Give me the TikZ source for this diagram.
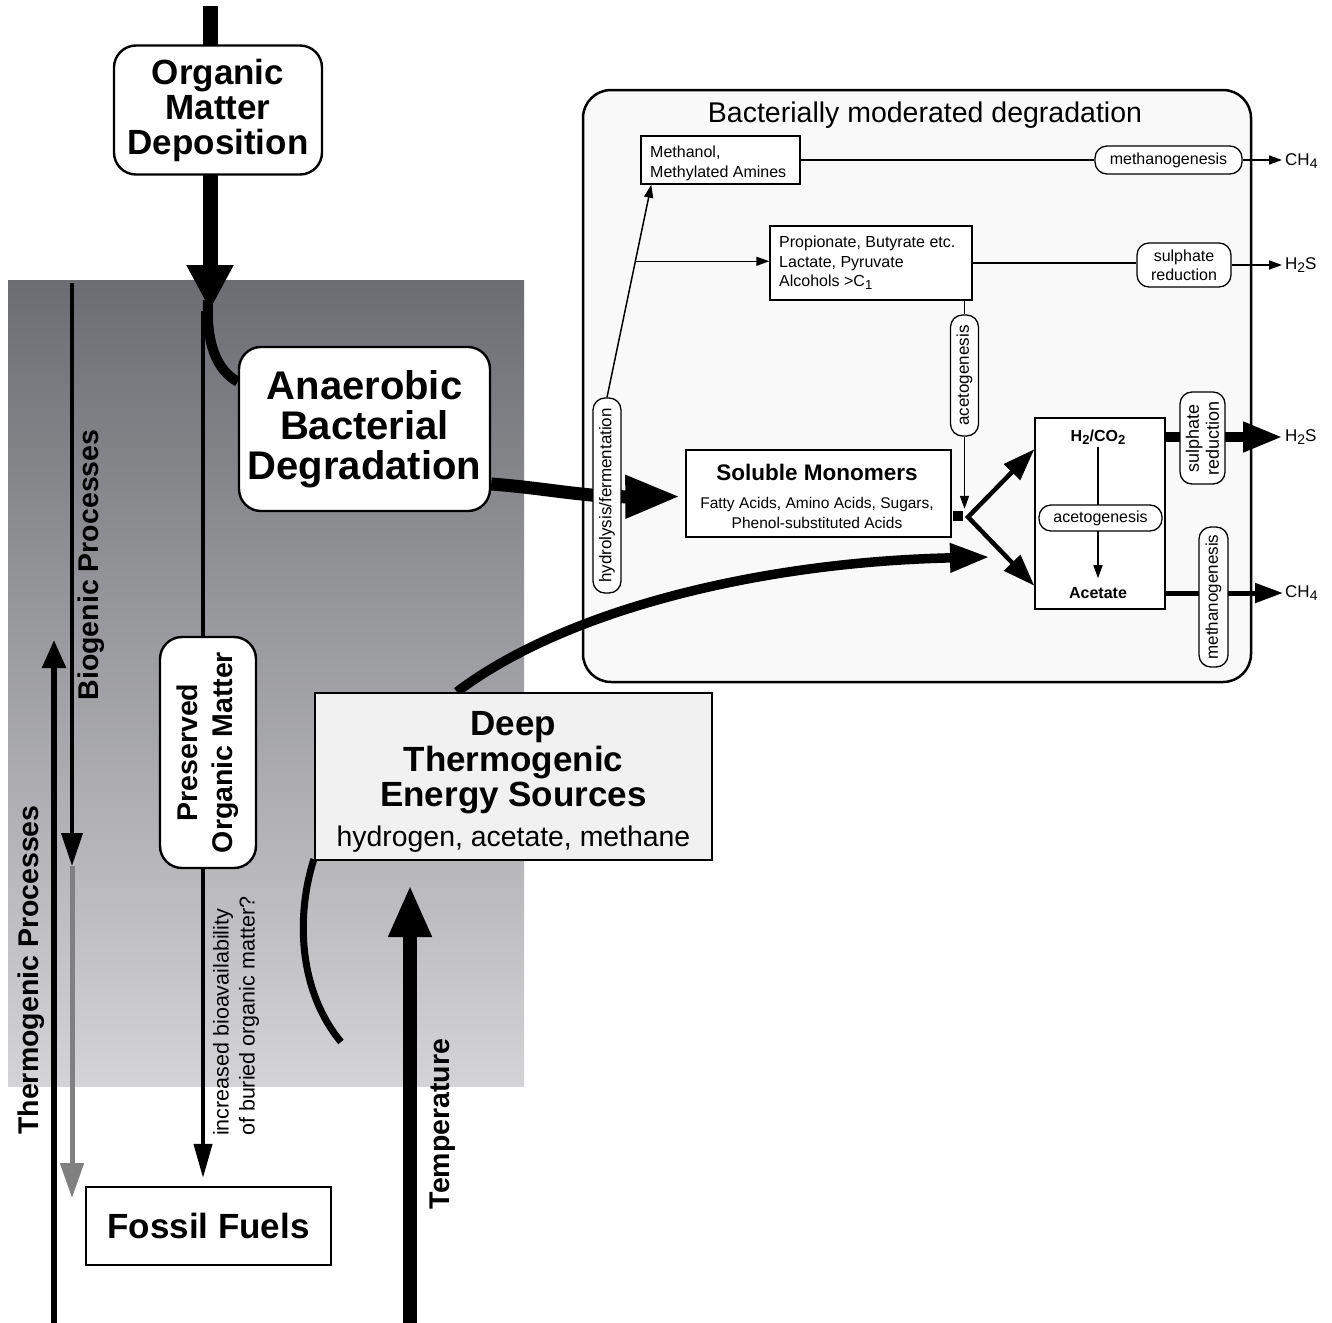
\documentclass[tikz,border=0pt]{standalone}
\usepackage{fontspec}
\setmainfont{Liberation Sans}
\usetikzlibrary{arrows.meta,calc}
\pgfdeclarelayer{bg}
\pgfdeclarelayer{conn}
\pgfsetlayers{bg,conn,main}
\definecolor{shadetop}{RGB}{108,109,114}
\definecolor{shadebot}{RGB}{212,212,214}
\definecolor{mainfill}{RGB}{249,249,249}
\definecolor{deepfill}{RGB}{241,241,241}
\definecolor{graylink}{RGB}{128,128,128}
\newcommand\subs[1]{\raisebox{-0.4ex}{\scalebox{0.82}{#1}}}
\newcommand\fsz[2]{\fontsize{#1}{#2}\selectfont}
\begin{document}
\begin{tikzpicture}[x=1pt,y=-1pt,
  roundbox/.style={draw, line width=2.4pt, fill=white, rounded corners=22pt, align=center, inner sep=0pt},
  sqbox/.style={draw, line width=2.2pt, inner sep=0pt, align=center},
  thinbox/.style={draw, line width=1.4pt, fill=white, inner sep=0pt},
  pill/.style={draw, line width=1.3pt, fill=white, rounded corners=12pt, inner sep=0pt, align=center, font=\fsz{16}{19}},
  fineline/.style={line width=1.5pt},
  smallhead/.style={-{Triangle[length=13pt,width=9pt]}},
  sidelab/.style={rotate=90, font=\bfseries\fsz{28.5}{30}, inner sep=0pt},
  outlab/.style={anchor=west, font=\fsz{17}{19}, inner sep=0pt}
]
\useasboundingbox (0,0) rectangle (1332,1322);

\begin{pgfonlayer}{bg}
\shade[top color=shadetop, bottom color=shadebot] (8,280) rectangle (524,1086);
\node[draw, line width=2.5pt, fill=mainfill, rounded corners=28pt, minimum width=668pt, minimum height=592pt, inner sep=0pt] (bmd) at (917,386) {};
\node[font=\fsz{28.5}{30}, inner sep=0pt] (title) at (925,115) {Bacterially moderated degradation};
\end{pgfonlayer}

% main nodes
\node[roundbox, minimum width=208pt, minimum height=129pt, font=\bfseries\fsz{35}{35}] (omd) at (218,110) {Organic\\Matter\\Deposition};
\node[roundbox, minimum width=251pt, minimum height=164pt, font=\bfseries\fsz{40}{40}] (abd) at (364.5,429) {Anaerobic\\Bacterial\\Degradation};
\node[roundbox, rotate=90, minimum width=231pt, minimum height=96pt, font=\bfseries\fsz{28.5}{35}] (pom) at (208,752.5) {Preserved\\Organic Matter};
\node[sqbox, fill=white, minimum width=245pt, minimum height=78pt, font=\bfseries\fsz{35}{35}] (ff) at (208.5,1226) {Fossil Fuels};
\node[sqbox, fill=deepfill, minimum width=397pt, minimum height=167pt] (dtes) at (513.5,776.5) {};
\node[font=\bfseries\fsz{35}{35.5}, align=center, inner sep=0pt] (dtxt) at (513.5,763) {Deep\\Thermogenic\\Energy Sources};
\node[font=\fsz{28.4}{32}, inner sep=0pt] (dsub) at (513.5,839) {hydrogen, acetate, methane};

% side labels
\node[sidelab] (biolab) at (91,565) {Biogenic Processes};
\node[sidelab] (thermolab) at (31,970) {Thermogenic Processes};
\node[sidelab] (templab) at (443,1124) {Temperature};
\node[rotate=90, anchor=west, align=left, font=\fsz{21.5}{26}, inner sep=0pt] (bioav) at (236,1136) {increased bioavailability\\of buried organic matter?};

% right box content
\node[thinbox, minimum width=159pt, minimum height=48pt] (meth) at (720.5,160) {};
\node[anchor=west, align=left, font=\fsz{16}{20}, inner sep=0pt] (methtxt) at (650,163) {Methanol,\\Methylated Amines};
\node[thinbox, minimum width=202pt, minimum height=74pt] (prop) at (871,263) {};
\node[anchor=west, align=left, font=\fsz{16}{19.5}, inner sep=0pt] (proptxt) at (779,263) {Propionate, Butyrate etc.\\Lactate, Pyruvate\\Alcohols >C\subs{1}};
\node[thinbox, minimum width=265pt, minimum height=87pt] (sol) at (818.5,493.5) {};
\node[font=\bfseries\fsz{22.5}{25}, inner sep=0pt] (soltitle) at (817,472) {Soluble Monomers};
\node[align=center, font=\fsz{15.5}{20}, inner sep=0pt] (soltxt) at (817,513) {Fatty Acids, Amino Acids, Sugars,\\Phenol-substituted Acids};
\node[thinbox, minimum width=130pt, minimum height=191pt] (h2) at (1100,513.5) {};
\node[font=\bfseries\fsz{16}{18}, inner sep=0pt] (h2lab) at (1098,437) {H\subs{2}/CO\subs{2}};
\node[font=\bfseries\fsz{16}{18}, inner sep=0pt] (aclab) at (1098,593) {Acetate};
\node[fill=black, minimum width=10pt, minimum height=10pt, inner sep=0pt] (sq) at (958,516) {};

% arrow inside the H2/CO2 box (above its fill, below the pill)
\draw[fineline, smallhead, shorten <=2pt, shorten >=9pt] (h2lab.south) -- (aclab.north);

% pills
\node[pill, minimum width=147pt, minimum height=28pt] (mtop) at (1168.5,160) {methanogenesis};
\node[pill, minimum width=94pt, minimum height=44pt] (srtop) at (1184,265) {sulphate\\reduction};
\node[pill, rotate=90, minimum width=121pt, minimum height=28pt, font=\fsz{17}{19}] (acv) at (964.5,375.5) {acetogenesis};
\node[pill, rotate=90, minimum width=195pt, minimum height=28pt, font=\fsz{17}{19}] (hyd) at (607,495.5) {hydrolysis/fermentation};
\node[pill, minimum width=123pt, minimum height=26pt] (acin) at (1100.5,518) {acetogenesis};
\node[pill, rotate=90, minimum width=92pt, minimum height=45pt, font=\fsz{18}{20}] (srv) at (1202.5,438) {sulphate\\reduction};
\node[pill, rotate=90, minimum width=140pt, minimum height=29pt, font=\fsz{17}{19}] (mv) at (1213.5,597) {methanogenesis};

% output labels
\node[outlab] (ch4a) at (1285,161) {CH\subs{4}};
\node[outlab] (h2sa) at (1285,265) {H\subs{2}S};
\node[outlab] (h2sb) at (1285,437) {H\subs{2}S};
\node[outlab] (ch4b) at (1285,593) {CH\subs{4}};

% coordinates
\coordinate (topstart) at (210,6);
\coordinate (tipA) at (210,310);
\coordinate (curvestart) at (208,300);
\coordinate (abdin) at ($(abd.north west)+(0,36)$);
\coordinate (ptop) at (203,311);
\coordinate (bioA) at (72,283);
\coordinate (bioB) at (72,866);
\coordinate (bioC) at (72,1198);
\coordinate (thA) at (54,1326);
\coordinate (thB) at (54,640);
\coordinate (tA) at (410,1326);
\coordinate (tB) at (410,885);
\coordinate (abdout) at ($(abd.east)+(0,55)$);
\coordinate (solin) at ($(sol.west)+(-5,3)$);
\coordinate (methin) at ($(meth.south west)+(11,0)$);
\coordinate (br) at ($(hyd.east)!0.64!(methin)$);
\coordinate (vtx) at (968,517);
\coordinate (h2up) at ($(h2.north west)+(0,32)$);
\coordinate (h2dn) at ($(h2.south west)+(0,-24)$);
\coordinate (dtop) at ($(dtes.north west)+(143,0)$);
\coordinate (thermtip) at (990,557);
\coordinate (dbl) at ($(dtes.south west)+(0,-2)$);
\coordinate (dend) at (341,1042);

\begin{pgfonlayer}{conn}
\draw[line width=10pt] (curvestart) .. controls (206,345) and (217,370) .. (abdin);
\draw[line width=15pt, -{Triangle[length=45pt,width=44pt]}] (topstart) -- (tipA);
\draw[line width=4pt] (ptop) -- (ptop |- pom.east);
\draw[line width=4pt, -{Triangle[length=34pt,width=18pt]}] (ptop |- pom.west) -- ($(ptop |- ff.north)+(0,-8)$);
\draw[line width=4pt, -{Triangle[length=33pt,width=21pt]}] (bioA) -- (bioB);
\draw[line width=5pt, draw=graylink, -{Triangle[length=35pt,width=23pt]}] (bioB) -- (bioC);
\draw[line width=5.5pt, -{Triangle[length=28pt,width=23pt]}] (thA) -- (thB);
\draw[line width=14pt, -{Triangle[length=52pt,width=40pt]}] (tA) -- (tB);
\draw[line width=13pt, -{Triangle[length=55pt,width=40pt]}] (abdout) .. controls (545,488) and (585,497) .. (solin);
\draw[fineline, smallhead] (hyd.east) -- (methin);
\draw[fineline, smallhead] (br) -- (br -| prop.west);
\draw[fineline] (meth.east) -- (mtop.west);
\draw[fineline, smallhead, shorten >=3pt] (mtop.east) -- (mtop.east -| ch4a.west);
\draw[fineline] (prop.east) -- (prop.east -| srtop.west);
\draw[fineline, smallhead, shorten >=3pt] (srtop.east) -- (srtop.east -| h2sa.west);
\draw[fineline] (acv.east |- prop.south) -- (acv.east);
\draw[fineline, smallhead] (acv.west) -- ($(acv.west |- sq.north)+(0,-2)$);
\draw[line width=4.5pt, {Triangle[length=32pt,width=22pt]}-{Triangle[length=32pt,width=22pt]}] (h2up) -- (vtx) -- (h2dn);
\draw[line width=10pt, -{Triangle[length=40pt,width=28pt]}] (h2.east |- h2lab) -- ($(h2sb.west)+(-2,0)$);
\draw[line width=5pt, -{Triangle[length=28pt,width=19pt]}] (h2.east |- aclab) -- ($(ch4b.west)+(-2,0)$);
\draw[line width=9.5pt, -{Triangle[length=40pt,width=27pt]}] (dtop) .. controls (565,610) and (760,562) .. (thermtip);
\draw[line width=7pt] (dbl) .. controls (296,915) and (298,990) .. (dend);
\end{pgfonlayer}
\end{tikzpicture}
\end{document}
